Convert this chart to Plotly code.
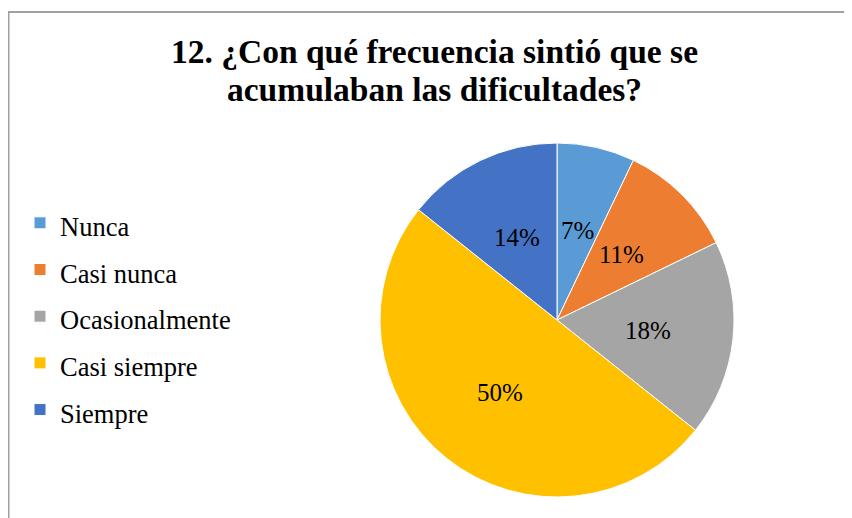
import math
import plotly.graph_objects as go

labels = ["Nunca", "Casi nunca", "Ocasionalmente", "Casi siempre", "Siempre"]
values = [7.1, 10.7, 17.9, 50.0, 14.3]
colors = ["#5B9BD5", "#ED7D31", "#A5A5A5", "#FFC000", "#4472C4"]
title_lines = ["12. ¿Con qué frecuencia sintió que se", "acumulaban las dificultades?"]

SERIF = "Liberation Serif, Times New Roman, Tinos, DejaVu Serif, serif"
W, H = 852, 518
cx, cy, r = 549, 312, 177   # pie centre / radius in figure pixels

legend_labels = [f"<span style='font-size:26.5px'>{l}</span>" for l in labels]

fig = go.Figure(go.Pie(
    labels=legend_labels,
    values=values,
    sort=False,
    direction="clockwise",
    rotation=0,
    marker=dict(colors=colors, line=dict(color="white", width=1)),
    textinfo="none",
    hoverinfo="label+percent",
    domain=dict(x=[(cx - r) / W, (cx + r) / W], y=[1 - (cy + r) / H, 1 - (cy - r) / H]),
))

# percentage labels at the middle angle of each slice (Excel-style best fit)
total = sum(values)
annotations = []
cum = 0.0
for v in values:
    mid = (cum + v / 2) / total * 2 * math.pi
    cum += v
    px = cx + 0.52 * r * math.sin(mid)
    py = cy - 0.52 * r * math.cos(mid)
    annotations.append(dict(
        x=px / W, y=1 - py / H, xref="paper", yref="paper",
        text=f"{round(v / total * 100)}%", showarrow=False,
        xanchor="center", yanchor="middle",
        font=dict(family=SERIF, size=25, color="black")))

for i, (line, ymid) in enumerate(zip(title_lines, [43.5, 81.5])):
    annotations.append(dict(
        x=426 / W, y=1 - ymid / H, xref="paper", yref="paper",
        text=f"<b>{line}</b>", showarrow=False,
        xanchor="center", yanchor="middle",
        font=dict(family=SERIF, size=33.5, color="black")))

fig.update_layout(
    width=W, height=H,
    margin=dict(l=0, r=0, t=0, b=0),
    paper_bgcolor="white",
    plot_bgcolor="white",
    font=dict(family=SERIF, color="black"),
    annotations=annotations,
    legend=dict(x=12 / W, xanchor="left", y=1 - 186.5 / H, yanchor="top",
                font=dict(family=SERIF, size=33.6, color="black"),
                bgcolor="rgba(0,0,0,0)", itemclick=False),
    shapes=[dict(type="rect", xref="paper", yref="paper",
                 x0=0.5 / W, x1=1.05, y0=-0.05, y1=1 - 4 / H,
                 line=dict(color="#A0A0A0", width=2))],
)

fig.write_html("out.html")
